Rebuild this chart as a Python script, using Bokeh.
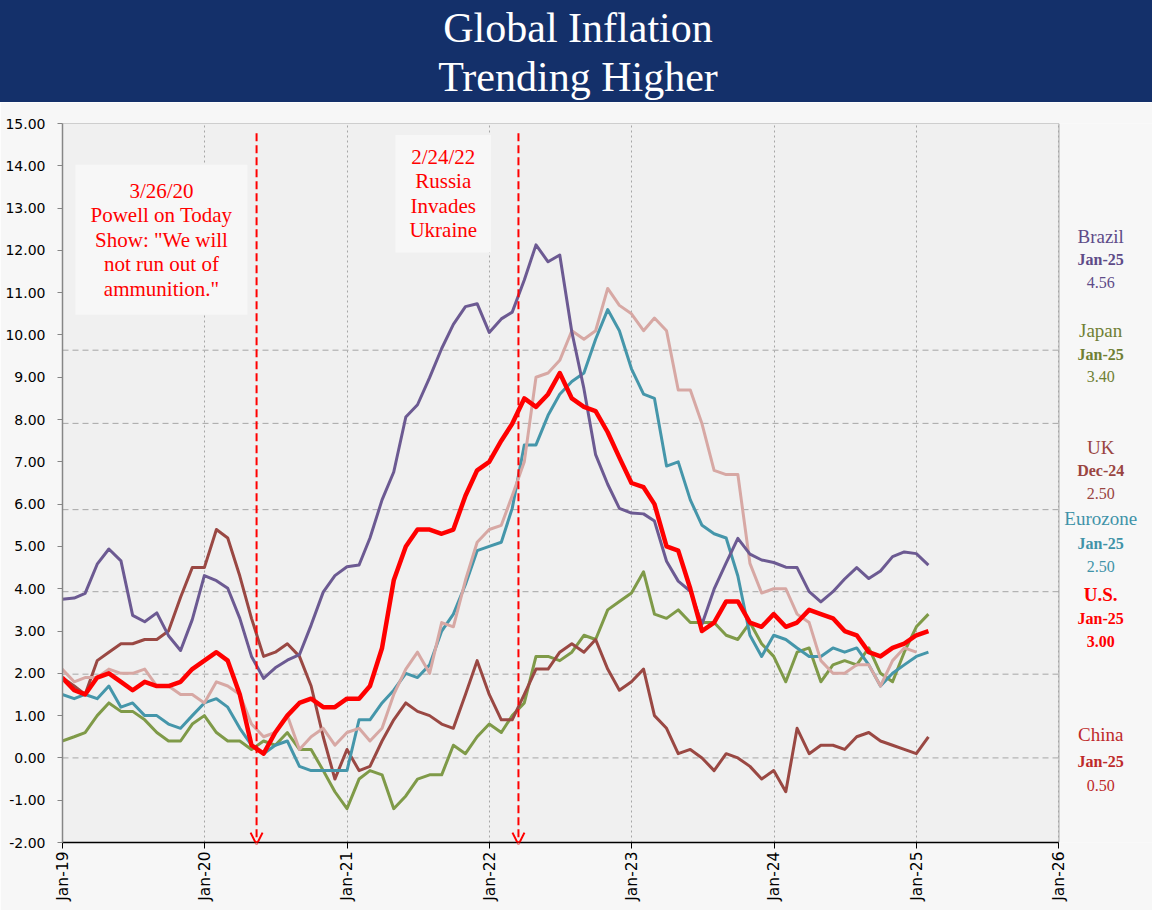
import math
import pandas as pd
from bokeh.plotting import figure
from bokeh.layouts import column
from bokeh.models import (Range1d, FixedTicker, NumeralTickFormatter, DatetimeTickFormatter,
                          Label, Arrow, OpenHead, Div)
from bokeh.core.properties import value
from bokeh.embed import file_html
from bokeh.resources import INLINE

# ---------------- data ----------------
# month-end observation dates, Dec-18 .. Jan-25
months = pd.date_range("2018-12-01", periods=74, freq="MS") + pd.offsets.MonthEnd(0)

brazil = [3.75, 3.78, 3.89, 4.58, 4.94, 4.66, 3.37, 3.22, 3.43, 2.89, 2.54, 3.27, 4.31,
          4.19, 4.01, 3.30, 2.40, 1.88, 2.13, 2.31, 2.44, 3.14, 3.92, 4.31, 4.52,
          4.56, 5.20, 6.10, 6.76, 8.06, 8.35, 8.99, 9.68, 10.25, 10.67, 10.74, 10.06,
          10.38, 10.54, 11.30, 12.13, 11.73, 11.89, 10.07, 8.73, 7.17, 6.47, 5.90, 5.79,
          5.77, 5.60, 4.65, 4.18, 3.94, 3.16, 3.99, 4.61, 5.19, 4.82, 4.68, 4.62,
          4.51, 4.50, 3.93, 3.69, 3.93, 4.23, 4.50, 4.24, 4.42, 4.76, 4.87, 4.83,
          4.56]
japan = [0.4, 0.5, 0.6, 1.0, 1.3, 1.1, 1.1, 0.9, 0.6, 0.4, 0.4, 0.8, 1.0,
         0.6, 0.4, 0.4, 0.2, 0.4, 0.3, 0.6, 0.2, 0.2, -0.3, -0.8, -1.2,
         -0.5, -0.3, -0.4, -1.2, -0.9, -0.5, -0.4, -0.4, 0.3, 0.1, 0.5, 0.8,
         0.6, 1.0, 1.3, 2.4, 2.4, 2.3, 2.5, 2.9, 2.8, 3.5, 3.7, 3.9,
         4.4, 3.4, 3.3, 3.5, 3.2, 3.2, 3.2, 2.9, 2.8, 3.2, 2.7, 2.4,
         1.8, 2.5, 2.6, 1.8, 2.2, 2.3, 2.2, 2.6, 2.0, 1.8, 2.5, 3.1,
         3.4]
uk = [2.1, 1.8, 1.9, 1.9, 2.1, 2.0, 2.0, 2.1, 1.7, 1.7, 1.5, 1.5, 1.3,
      1.8, 1.7, 1.5, 0.8, 0.5, 0.6, 1.0, 0.2, 0.5, 0.7, 0.3, 0.6,
      0.7, 0.4, 0.7, 1.5, 2.1, 2.5, 2.0, 3.2, 3.1, 4.2, 5.1, 5.4,
      5.5, 6.2, 7.0, 9.0, 9.1, 9.4, 10.1, 9.9, 10.1, 11.1, 10.7, 10.5,
      10.1, 10.4, 10.1, 8.7, 8.7, 7.9, 6.8, 6.7, 6.7, 4.6, 3.9, 4.0,
      4.0, 3.4, 3.2, 2.3, 2.0, 2.0, 2.2, 2.2, 1.7, 2.3, 2.6, 2.5]
eurozone = [1.5, 1.4, 1.5, 1.4, 1.7, 1.2, 1.3, 1.0, 1.0, 0.8, 0.7, 1.0, 1.3,
            1.4, 1.2, 0.7, 0.3, 0.1, 0.3, 0.4, -0.2, -0.3, -0.3, -0.3, -0.3,
            0.9, 0.9, 1.3, 1.6, 2.0, 1.9, 2.2, 3.0, 3.4, 4.1, 4.9, 5.0,
            5.1, 5.9, 7.4, 7.4, 8.1, 8.6, 8.9, 9.1, 9.9, 10.6, 10.1, 9.2,
            8.6, 8.5, 6.9, 7.0, 6.1, 5.5, 5.3, 5.2, 4.3, 2.9, 2.4, 2.9,
            2.8, 2.6, 2.4, 2.4, 2.6, 2.5, 2.6, 2.2, 1.7, 2.0, 2.2, 2.4,
            2.5]
us = [1.9, 1.6, 1.5, 1.9, 2.0, 1.8, 1.6, 1.8, 1.7, 1.7, 1.8, 2.1, 2.3,
      2.5, 2.3, 1.5, 0.3, 0.1, 0.6, 1.0, 1.3, 1.4, 1.2, 1.2, 1.4,
      1.4, 1.7, 2.6, 4.2, 5.0, 5.4, 5.4, 5.3, 5.4, 6.2, 6.8, 7.0,
      7.5, 7.9, 8.5, 8.3, 8.6, 9.1, 8.5, 8.3, 8.2, 7.7, 7.1, 6.5,
      6.4, 6.0, 5.0, 4.9, 4.0, 3.0, 3.2, 3.7, 3.7, 3.2, 3.1, 3.4,
      3.1, 3.2, 3.5, 3.4, 3.3, 3.0, 2.9, 2.5, 2.4, 2.6, 2.7, 2.9,
      3.0]
china = [1.9, 1.7, 1.5, 2.3, 2.5, 2.7, 2.7, 2.8, 2.8, 3.0, 3.8, 4.5, 4.5,
         5.4, 5.2, 4.3, 3.3, 2.4, 2.5, 2.7, 2.4, 1.7, 0.5, -0.5, 0.2,
         -0.3, -0.2, 0.4, 0.9, 1.3, 1.1, 1.0, 0.8, 0.7, 1.5, 2.3, 1.5,
         0.9, 0.9, 1.5, 2.1, 2.1, 2.5, 2.7, 2.5, 2.8, 2.1, 1.6, 1.8,
         2.1, 1.0, 0.7, 0.1, 0.2, 0.0, -0.3, 0.1, 0.0, -0.2, -0.5, -0.3,
         -0.8, 0.7, 0.1, 0.3, 0.3, 0.2, 0.5, 0.6, 0.4, 0.3, 0.2, 0.1,
         0.5]

series_names = ["Japan", "China", "Eurozone", "UK", "Brazil", "U.S."]
series_values = [japan, china, eurozone, uk, brazil, us]
line_colors = ["#7F9A48", "#9A4843", "#4596AA", "#D7A8A4", "#6C5A92", "#FF0000"]
line_widths = [3, 3, 3, 3, 3, 4.5]

y_ticks = list(range(-2, 16))
tick_years = list(range(2019, 2027))
axis_start, axis_end = "2019-01-01", "2026-01-01"
view_end = "2026-08-29"          # frame continues right to hold the end labels
y_min, y_max = -2, 15
secondary_grid_levels = [0.0, 1.98, 3.93, 5.87, 7.91, 9.64]

# right-hand end labels: (name, series, colour, bold, y rows for name/date/value)
end_labels = [
    ("Brazil", brazil, "#5E4B88", False, (12.33, 11.79, 11.25)),
    ("Japan", japan, "#6F7F34", False, (10.11, 9.54, 9.02)),
    ("UK", uk, "#9A4541", False, (7.34, 6.80, 6.26)),
    ("Eurozone", eurozone, "#3F93A8", False, (5.66, 5.07, 4.52)),
    ("U.S.", us, "#FF0000", True, (3.86, 3.29, 2.75)),
    ("China", china, "#BE2A2A", False, (0.55, -0.09, -0.66)),
]
end_label_date = "2026-04-18"

event_marker_dates = ["2020-05-13", "2022-03-16"]
event_texts = ['3/26/20\nPowell on Today\nShow: "We will\nnot run out of\nammunition."',
               "2/24/22\nRussia\nInvades\nUkraine"]
event_text_pos = [("2019-09-12", 12.25), ("2021-09-04", 13.34)]
event_padding = [(15, 14), (14, 10)]

title_lines = ["Global Inflation", "Trending Higher"]

NAVY = "#14306A"
SERIF = "Liberation Serif"
SANS = "DejaVu Sans"


def ms(d):
    return pd.Timestamp(d).value / 1e6


# ---------------- title bar ----------------
title_html = ('<div style="width:1152px;height:102px;box-sizing:border-box;background:%s;'
              'color:#FFFFFF;font-family:\'%s\';font-size:42px;line-height:49px;'
              'text-align:center;padding-top:4px;padding-left:4px;margin:0;">%s</div>'
              % (NAVY, SERIF, "<br>".join(title_lines)))
title_div = Div(text=title_html, width=1152, height=102, margin=0)

# ---------------- main chart ----------------
p = figure(width=1152, height=808, x_axis_type="datetime",
           x_range=Range1d(start=pd.Timestamp(axis_start), end=pd.Timestamp(view_end)),
           y_range=Range1d(y_min, y_max), toolbar_location=None, output_backend="svg",
           background_fill_color="#F7F7F7", border_fill_color="#F7F7F7",
           min_border_left=62, min_border_right=0, min_border_top=21, min_border_bottom=68)
p.outline_line_color = None

# plot-area panel
p.quad(left=[pd.Timestamp(axis_start)], right=[pd.Timestamp(axis_end)], bottom=[y_min], top=[y_max],
       fill_color="#F0F0F0", line_color="#A6A6A6", line_width=1, level="image")

xt = FixedTicker(ticks=[ms(f"{y}-01-01") for y in tick_years])
p.xaxis.ticker = xt
p.xgrid.ticker = xt
p.xaxis.bounds = (ms(axis_start), ms(axis_end))
fmt = "%b-%y"
p.xaxis.formatter = DatetimeTickFormatter(years=fmt, months=fmt, days=fmt, hours=fmt,
                                          minutes=fmt, seconds=fmt, milliseconds=fmt,
                                          microseconds=fmt)
p.xaxis.major_label_orientation = math.pi / 2
p.xaxis.axis_line_color = "#000000"
p.xaxis.axis_line_width = 1.5
p.xaxis.major_tick_line_color = "#000000"
p.xaxis.major_tick_out = 6
p.xaxis.major_tick_in = 0
p.xaxis.minor_tick_line_color = None
p.xaxis.major_label_text_font = SANS
p.xaxis.major_label_text_font_size = "15.5px"
p.xaxis.major_label_text_color = "#000000"
p.xaxis.major_label_standoff = 3

p.yaxis.ticker = FixedTicker(ticks=y_ticks)
p.yaxis.formatter = NumeralTickFormatter(format="0.00")
p.yaxis.axis_line_color = "#868686"
p.yaxis.axis_line_width = 1.5
p.yaxis.major_tick_line_color = "#868686"
p.yaxis.major_tick_out = 5
p.yaxis.major_tick_in = 0
p.yaxis.minor_tick_line_color = None
p.yaxis.major_label_text_font = SANS
p.yaxis.major_label_text_font_size = "14px"
p.yaxis.major_label_text_color = "#000000"
p.yaxis.major_label_standoff = 12

p.xgrid.grid_line_color = "#A6A6A6"
p.xgrid.grid_line_dash = "2 3"
p.xgrid.grid_line_width = 1
p.ygrid.visible = False

# dashed horizontal reference levels across the plot area
n_lv = len(secondary_grid_levels)
p.segment(x0=[pd.Timestamp(axis_start)] * n_lv, x1=[pd.Timestamp(axis_end)] * n_lv,
          y0=secondary_grid_levels, y1=secondary_grid_levels,
          line_color="#A6A6A6", line_width=1, line_dash="6 4", level="underlay")

for name, vals, col, lw in zip(series_names, series_values, line_colors, line_widths):
    p.line(x=months[:len(vals)], y=vals, line_color=col, line_width=lw, line_join="round")

# event markers
for d in event_marker_dates:
    p.add_layout(Arrow(end=OpenHead(size=12, line_color="#FF0000", line_width=2),
                       x_start=ms(d), y_start=14.77, x_end=ms(d), y_end=-2.05,
                       line_color="#FF0000", line_width=2, line_dash="8 4"))
for txt, (d, yy), pad in zip(event_texts, event_text_pos, event_padding):
    p.add_layout(Label(x=ms(d), y=yy, text=txt, text_align="center", text_baseline="middle",
                       text_font=SERIF, text_font_size="21px", text_color="#FF0000",
                       text_line_height=1.02,
                       background_fill_color="#F7F7F7", padding=pad))

# right-hand end labels (inside the extended frame)
lx = pd.Timestamp(end_label_date)
for name, vals, col, bold, rows in end_labels:
    last_date = months[len(vals) - 1].strftime("%b-%y")
    texts = [name, last_date, f"{vals[-1]:.2f}"]
    sizes = ["19px", "16px", "16px"]
    styles = ["bold" if bold else "normal", "bold", "bold" if bold else "normal"]
    for t, yy, sz, st in zip(texts, rows, sizes, styles):
        p.text(x=[lx], y=[yy], text=[t], text_align="center", text_baseline="middle",
               text_font=value(SERIF), text_font_size=value(sz), text_font_style=st,
               text_color=col)

layout = column(title_div, p, spacing=0)
open("out.html", "w").write(file_html(layout, INLINE))
